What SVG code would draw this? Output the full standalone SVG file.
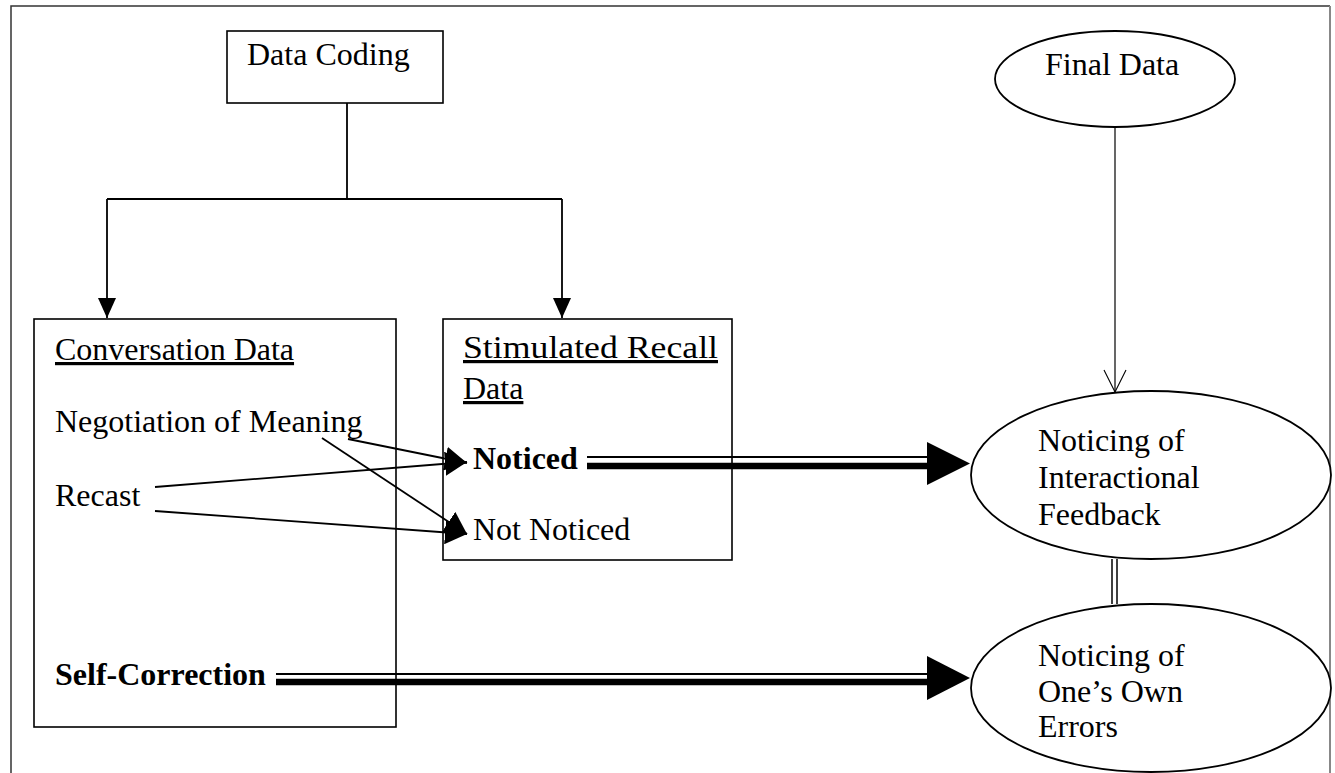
<svg xmlns="http://www.w3.org/2000/svg" width="1335" height="773" viewBox="0 0 1335 773">
  <style>
    .box { fill: #fff; stroke: #000; stroke-width: 1.6; }
    .ell { fill: #fff; stroke: #000; stroke-width: 1.8; }
    .t { font-family: "Liberation Serif", "Times New Roman", serif; font-size: 32px; fill: #000; }
    .b { font-weight: bold; }
    .u { text-decoration: underline; }
    .ln { stroke: #000; stroke-width: 1.8; fill: none; }
    .thin { stroke: #000; stroke-width: 1.2; fill: none; }
    .thick { stroke: #000; stroke-width: 6.5; fill: none; }
    .head { fill: #000; stroke: none; }
  </style>
  <defs>
    <marker id="tri" markerUnits="userSpaceOnUse" markerWidth="20" markerHeight="18" refX="20" refY="9" orient="auto">
      <path d="M0,0 L20,9 L0,18 z" fill="#000"/>
    </marker>
    <marker id="mid" markerUnits="userSpaceOnUse" markerWidth="22" markerHeight="24" refX="22" refY="12" orient="auto">
      <path d="M0,0 L22,12 L0,24 z" fill="#000"/>
    </marker>
    <marker id="open" markerUnits="userSpaceOnUse" markerWidth="24" markerHeight="24" refX="23" refY="12" orient="auto">
      <path d="M1,1 L23,12 L1,23" fill="none" stroke="#000" stroke-width="1.1"/>
    </marker>
  </defs>

  <rect x="0" y="0" width="1335" height="773" fill="#fff"/>
  <g id="frame">
    <path d="M11,773 L11,6 L1330,6" fill="none" stroke="#333" stroke-width="1.5"/>
    <path d="M1330,6 L1330,773" fill="none" stroke="#888" stroke-width="2"/>
  </g>

  <g id="connectors">
    <path class="ln" d="M347,103 L347,199"/>
    <path class="ln" d="M107,199 L562,199"/>
    <path class="ln" d="M107,199 L107,318" marker-end="url(#tri)"/>
    <path class="ln" d="M562,199 L562,318" marker-end="url(#tri)"/>

    <path class="ln" d="M348,439 L467,463" marker-end="url(#mid)"/>
    <path class="ln" d="M155,487 L467,462" marker-end="url(#mid)"/>
    <path class="ln" d="M322,438 L467,534" marker-end="url(#mid)"/>
    <path class="ln" d="M155,511 L467,534" marker-end="url(#mid)"/>

    <path class="thin" d="M1115,127 L1115,392" marker-end="url(#open)"/>

    <path class="ln" d="M587,457 L930,457" style="stroke-width:2"/>
    <path class="thick" d="M587,466 L930,466"/>
    <polygon class="head" points="927,442 970,463.5 927,485"/>

    <path class="ln" d="M276,674 L930,674" style="stroke-width:2"/>
    <path class="thick" d="M276,682 L930,682"/>
    <polygon class="head" points="927,656 970,678 927,700"/>

    <path class="ln" d="M1112,559 L1112,604" style="stroke-width:1.5"/>
    <path class="ln" d="M1117,559 L1117,604" style="stroke-width:1.5"/>
  </g>

  <g id="data-coding">
    <rect class="box" x="227" y="31" width="216" height="72"/>
    <text class="t" x="247" y="65">Data Coding</text>
  </g>

  <g id="conversation-data">
    <rect class="box" x="34" y="319" width="362" height="408" style="fill:none"/>
    <text class="t u" x="55" y="360">Conversation Data</text>
    <text class="t" x="55" y="432">Negotiation of Meaning</text>
    <text class="t" x="55" y="506">Recast</text>
    <text class="t b" x="55" y="685">Self-Correction</text>
  </g>

  <g id="stimulated-recall">
    <rect class="box" x="443" y="319" width="289" height="241" style="fill:none"/>
    <text class="t u" x="463" y="358" textLength="255" lengthAdjust="spacingAndGlyphs">Stimulated Recall</text>
    <text class="t u" x="463" y="399">Data</text>
    <text class="t b" x="473" y="469">Noticed</text>
    <text class="t" x="473" y="540">Not Noticed</text>
  </g>

  <g id="final-data">
    <ellipse class="ell" cx="1115" cy="79" rx="120" ry="48"/>
    <text class="t" x="1045" y="75">Final Data</text>
  </g>

  <g id="noticing-feedback">
    <ellipse class="ell" cx="1151" cy="475" rx="180" ry="84"/>
    <text class="t" x="1038" y="451">Noticing of</text>
    <text class="t" x="1038" y="488">Interactional</text>
    <text class="t" x="1038" y="525">Feedback</text>
  </g>

  <g id="noticing-errors">
    <ellipse class="ell" cx="1151" cy="688" rx="180" ry="84"/>
    <text class="t" x="1038" y="666">Noticing of</text>
    <text class="t" x="1038" y="702">One’s Own</text>
    <text class="t" x="1038" y="737">Errors</text>
  </g>
</svg>
